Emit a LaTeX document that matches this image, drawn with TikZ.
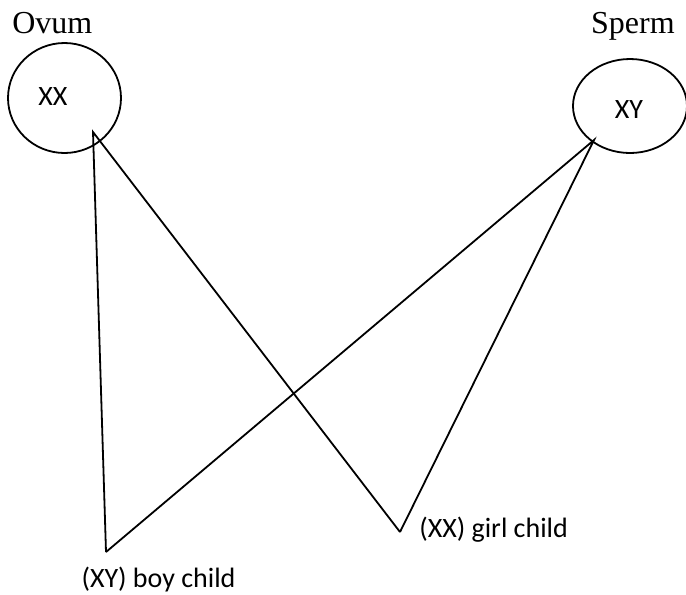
\documentclass[tikz,border=0pt]{standalone}
\usepackage{fontspec}
\setmainfont{Carlito}
\newfontfamily\titlefont{Liberation Serif}
\usetikzlibrary{shapes.geometric}
\tikzset{
  cell/.style={draw, ellipse, line width=1.35pt, inner sep=0pt},
  link/.style={draw, line width=1.35pt, line join=miter},
  title/.style={font=\titlefont\fontsize{24}{28}\selectfont, inner sep=0pt},
  lab/.style={font=\fontsize{21}{25}\selectfont, inner sep=0pt},
}
\begin{document}
\begin{tikzpicture}[x=0.75pt,y=-0.75pt]
\useasboundingbox (0,0) rectangle (686,594);
% cells
\node[cell, minimum width=84.75pt, minimum height=82.5pt] (ovum) at (64.5,98) {};
\node[cell, minimum width=85.5pt, minimum height=70.5pt] (sperm) at (630,106) {};
\node[lab] (xx) at (53,97) {XX};
\node[lab] (xy) at (629,110) {XY};
\node[title, anchor=base west] (ovumlab) at (12,33) {Ovum};
\node[title, anchor=base east] (spermlab) at (675,33) {Sperm};
% points
\coordinate (oa) at (93,132);
\coordinate (sa) at (594,140);
\coordinate (boy) at (106,552);
\coordinate (girl) at (400,532);
% connectors
\draw[link] (boy) -- (oa) -- (girl);
\draw[link] (boy) -- (sa) -- (girl);
% labels
\node[lab] (boylab) at (158.5,580) {(XY) boy child};
\node[lab, anchor=west] (girllab) at (419,530) {(XX) girl child};
\end{tikzpicture}
\end{document}
